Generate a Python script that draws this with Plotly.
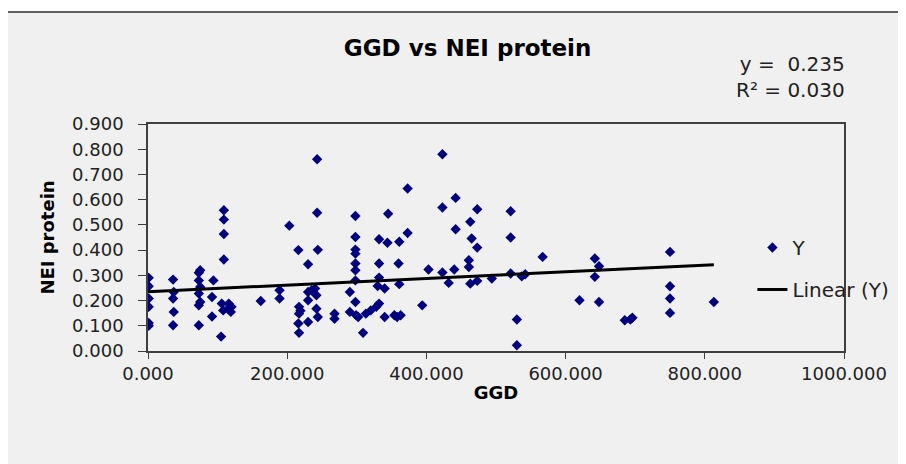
import plotly.graph_objects as go

# ---- data ----
ggd = [1, 1, 1, 1, 1, 1,
       36, 37, 36, 37, 36,
       75, 73, 73, 75, 73, 75, 73, 73,
       94, 92, 92,
       109, 109, 109, 109, 106, 108, 105,
       116, 119, 115, 120,
       162,
       189, 189,
       203,
       216, 217, 217, 216, 217, 219,
       230, 243, 243, 244, 230, 235, 240, 242, 230, 242, 244, 230,
       268, 268,
       290, 290,
       298, 298, 298, 298, 298, 298, 298, 298, 302, 299, 309,
       313, 320, 328, 332, 332, 332, 332, 330, 340, 340,
       345, 344, 361, 373, 373, 360, 361, 354, 363, 358,
       394, 403,
       423, 423, 423, 432, 442, 442, 440,
       463, 465, 473, 473, 461, 461, 463, 473,
       494,
       521, 521, 521, 537, 542, 530, 530,
       567,
       620, 642, 648, 642, 648,
       685, 696, 693,
       750, 750, 750, 750,
       813]
nei = [0.290, 0.257, 0.208, 0.175, 0.111, 0.100,
       0.283, 0.234, 0.208, 0.155, 0.102,
       0.320, 0.310, 0.280, 0.254, 0.228, 0.194, 0.181, 0.102,
       0.280, 0.214, 0.137,
       0.558, 0.521, 0.464, 0.363, 0.188, 0.161, 0.057,
       0.188, 0.155, 0.168, 0.175,
       0.198,
       0.241, 0.208,
       0.497,
       0.400, 0.175, 0.148, 0.109, 0.072, 0.160,
       0.344, 0.760, 0.548, 0.401, 0.234, 0.241, 0.248, 0.221, 0.201, 0.168, 0.135, 0.115,
       0.148, 0.128,
       0.234, 0.155,
       0.535, 0.452, 0.402, 0.386, 0.347, 0.320, 0.280, 0.194, 0.135, 0.142, 0.072,
       0.148, 0.161, 0.175, 0.188, 0.443, 0.347, 0.291, 0.258, 0.248, 0.135,
       0.544, 0.429, 0.433, 0.468, 0.644, 0.347, 0.265, 0.142, 0.142, 0.135,
       0.181, 0.323,
       0.780, 0.569, 0.311, 0.270, 0.607, 0.483, 0.323,
       0.512, 0.446, 0.410, 0.562, 0.360, 0.333, 0.267, 0.278,
       0.287,
       0.554, 0.450, 0.307, 0.296, 0.304, 0.125, 0.023,
       0.373,
       0.201, 0.367, 0.336, 0.294, 0.194,
       0.122, 0.132, 0.125,
       0.393, 0.257, 0.208, 0.151,
       0.194]

trend_intercept = 0.235
trend_slope = 0.000132
equation_text = ["y =  0.235", "R² = 0.030"]

chart_title = "GGD vs NEI protein"
x_title = "GGD"
y_title = "NEI protein"

# ---- layout helpers (page pixel -> paper) ----
OFF = 8  # page body margin offset
L, R, T, B = 148, 847, 124, 351
W, H = 906 - OFF, 464 - OFF


def px(x):
    return (x - L) / (R - L)


def py(y):
    return (B - y) / (B - T)


FONT = "DejaVu Sans"
BG = "#F0F0F0"

trend_x = [0, max(ggd)]
trend_y = [trend_intercept + trend_slope * v for v in trend_x]

fig = go.Figure()
fig.add_trace(go.Scatter(
    x=ggd, y=nei, mode="markers", name="Y", legendgroup="a",
    marker=dict(symbol="diamond", size=8, color="#00007F",
                line=dict(width=0)),
))
fig.add_trace(go.Scatter(
    x=trend_x, y=trend_y, mode="lines", name="Linear (Y)", legendgroup="b",
    line=dict(color="black", width=3),
))

fig.add_shape(type="rect", xref="paper", yref="paper",
              x0=px(5), x1=px(915), y0=py(480), y1=py(12),
              fillcolor=BG, line=dict(color="#606060", width=2),
              layer="below")

fig.add_annotation(
    text="<br>".join(equation_text), xref="paper", yref="paper",
    x=px(850), y=py(77), xanchor="right", yanchor="middle",
    align="right", showarrow=False,
    font=dict(family=FONT, size=20, color="#222"),
)

fig.update_layout(
    width=W, height=H, autosize=False,
    margin=dict(l=L - OFF, r=906 - R, t=T - OFF, b=464 - B, pad=0),
    paper_bgcolor="white", plot_bgcolor="rgba(0,0,0,0)",
    font=dict(family=FONT, color="#222"),
    title=dict(text="<b>" + chart_title + "</b>", x=px(469), xref="paper",
               xanchor="center", y=1 - (48 - OFF) / H, yref="container",
               yanchor="middle",
               font=dict(family=FONT, size=23, color="black")),
    showlegend=True,
    legend=dict(x=px(755), y=py(228), xanchor="left", yanchor="top",
                xref="paper", yref="paper",
                bgcolor="rgba(0,0,0,0)", traceorder="grouped",
                tracegroupgap=13,
                font=dict(family=FONT, size=20, color="#222")),
    xaxis=dict(range=[0, 1000], dtick=200, tick0=0, tickformat=".3f",
               showgrid=False, zeroline=False, showline=True, mirror=True,
               linecolor="#404040", linewidth=1.5, automargin=False,
               ticks="outside", ticklen=6, tickcolor="#404040",
               tickfont=dict(family=FONT, size=18, color="#222"),
               ticklabelstandoff=0,
               title=dict(text="<b>" + x_title + "</b>", standoff=3,
                          font=dict(family=FONT, size=18, color="black"))),
    yaxis=dict(range=[0, 0.9], dtick=0.1, tick0=0, tickformat=".3f",
               showgrid=False, zeroline=False, showline=True, mirror=True,
               linecolor="#404040", linewidth=1.5, automargin=False,
               ticks="outside", ticklen=8, tickcolor="#404040",
               tickfont=dict(family=FONT, size=18, color="#222"),
               ticklabelstandoff=11,
               title=dict(text="<b>" + y_title + "</b>", standoff=13,
                          font=dict(family=FONT, size=18, color="black"))),
)

fig.write_html("out.html")
